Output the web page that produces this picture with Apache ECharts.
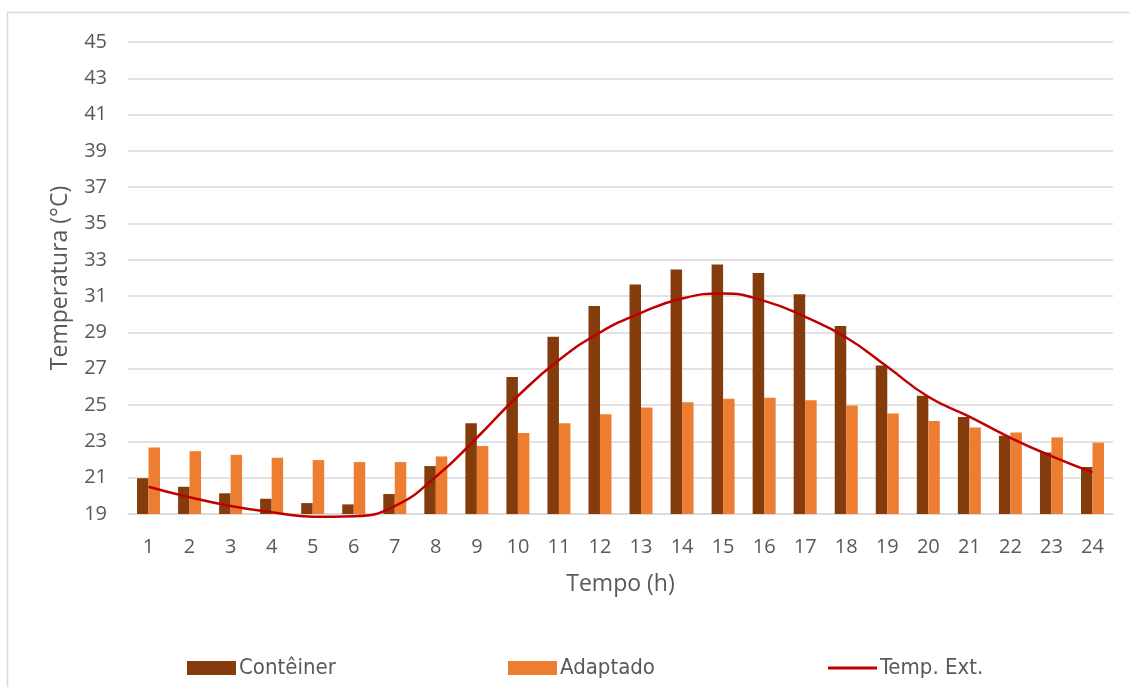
<!DOCTYPE html>
<html>
<head>
<meta charset="utf-8">
<script src="https://cdn.jsdelivr.net/npm/echarts@6/dist/echarts.min.js"></script>
<style>
  html, body { margin: 0; padding: 0; background: #ffffff; }
  #chart { width: 1130px; height: 687px; }
</style>
</head>
<body>
<div id="chart"></div>
<script>
// Hourly temperatures (°C) over one day
const hours = ['1','2','3','4','5','6','7','8','9','10','11','12','13','14','15','16','17','18','19','20','21','22','23','24'];
const conteiner = [20.97, 20.5, 20.14, 19.84, 19.6, 19.53, 20.1, 21.64, 24.0, 26.55, 28.76, 30.46, 31.64, 32.47, 32.74, 32.28, 31.11, 29.36, 27.18, 25.51, 24.34, 23.31, 22.39, 21.59];
const adaptado = [22.67, 22.46, 22.26, 22.1, 21.97, 21.86, 21.86, 22.17, 22.74, 23.46, 24.0, 24.49, 24.87, 25.16, 25.35, 25.4, 25.27, 24.98, 24.54, 24.12, 23.77, 23.49, 23.22, 22.93];
const tempExt = [20.5, 19.92, 19.44, 19.1, 18.85, 18.88, 19.44, 21.05, 23.2, 25.5, 27.48, 29.0, 30.08, 30.87, 31.15, 30.74, 29.86, 28.72, 27.11, 25.46, 24.36, 23.2, 22.19, 21.29];

const axisFont = "'Open Sans', 'Noto Sans', sans-serif";
const legendFont = "'Liberation Sans Narrow', 'DejaVu Sans Condensed', 'Noto Sans', sans-serif";
const textColor = '#595959';
const gridColor = '#d9d9d9';

const chart = echarts.init(document.getElementById('chart'), null, { renderer: 'canvas' });

function legendAt(left, name, iconHeight) {
  return {
    left: left, top: 652,
    data: [{ name: name, icon: 'rect' }],
    itemWidth: 49, itemHeight: iconHeight,
    itemGap: 0,
    textStyle: { fontFamily: legendFont, fontSize: 22, color: textColor, padding: [0, 0, 0, -2] },
    selectedMode: false
  };
}

chart.setOption({
  animation: false,
  backgroundColor: '#ffffff',
  graphic: [{
    type: 'rect',
    shape: { x: 7.5, y: 12.5, width: 1200, height: 800 },
    style: { fill: 'none', stroke: gridColor, lineWidth: 1.5 },
    silent: true
  }],
  grid: { left: 128, right: 17, top: 42, bottom: 173 },
  legend: [
    legendAt(182, 'Contêiner', 14),
    legendAt(503, 'Adaptado', 14),
    legendAt(823, 'Temp. Ext.', 3)
  ],
  xAxis: {
    type: 'category',
    data: hours,
    name: 'Tempo (h)',
    nameLocation: 'middle',
    nameGap: 59,
    nameTextStyle: { fontFamily: axisFont, fontSize: 23, color: textColor },
    axisLine: { lineStyle: { color: gridColor, width: 1.5 } },
    axisTick: { show: false },
    axisLabel: { fontFamily: axisFont, fontSize: 20, color: textColor, margin: 23 }
  },
  yAxis: {
    type: 'value',
    min: 19, max: 45, interval: 2,
    name: 'Temperatura (°C)',
    nameLocation: 'middle',
    nameGap: 56,
    nameTextStyle: { fontFamily: axisFont, fontSize: 23, color: textColor },
    axisLine: { show: false },
    axisTick: { show: false },
    axisLabel: { fontFamily: axisFont, fontSize: 20, color: textColor, margin: 21 },
    splitLine: { lineStyle: { color: gridColor, width: 1.5 } }
  },
  series: [
    {
      name: 'Contêiner', type: 'bar', data: conteiner,
      itemStyle: { color: '#843c0c' },
      barGap: '0%', barCategoryGap: '44%'
    },
    {
      name: 'Adaptado', type: 'bar', data: adaptado,
      itemStyle: { color: '#ed7d31' },
      barGap: '0%', barCategoryGap: '44%'
    },
    {
      name: 'Temp. Ext.', type: 'line', data: tempExt,
      smooth: true, symbol: 'none', clip: false,
      lineStyle: { color: '#c00000', width: 2.5 },
      itemStyle: { color: '#c00000' }
    }
  ]
});
</script>
</body>
</html>
